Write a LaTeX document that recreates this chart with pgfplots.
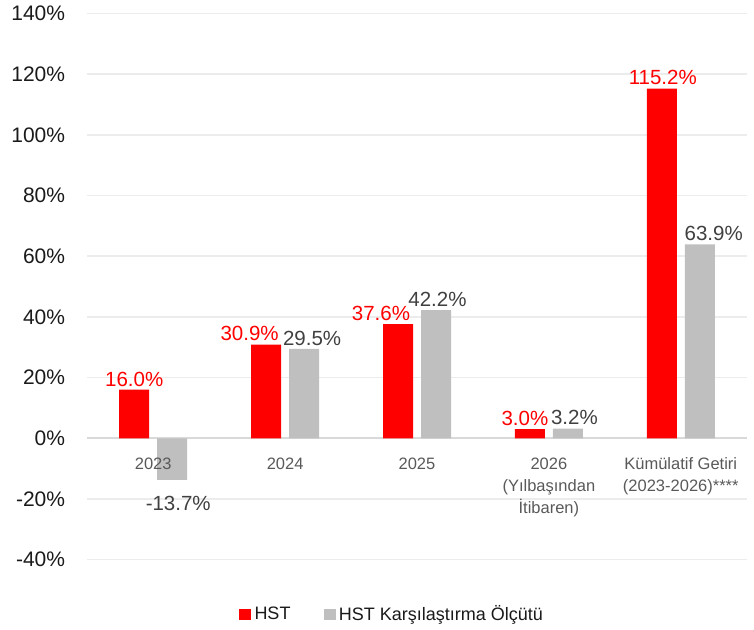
\documentclass[border=0pt]{standalone}
\usepackage{pgfplots}
\pgfplotsset{compat=1.18}
\usepackage{pgfplotstable}
\usepackage{fontspec}
\setmainfont{Liberation Sans}
\definecolor{hred}{HTML}{FF0000}
\definecolor{hgray}{HTML}{BFBFBF}
\definecolor{lblgray}{HTML}{404040}
\definecolor{catgray}{HTML}{595959}
\definecolor{gridc}{HTML}{ECECEC}
\definecolor{zeroc}{HTML}{D9D9D9}
\definecolor{tickc}{HTML}{1A1A1A}

\pgfplotsset{
  base/.style={
    at={(87.3pt,69.3pt)}, anchor=south west,
    scale only axis, width=659.4pt, height=546.3pt,
    xmin=-0.5, xmax=4.5, ymin=-40, ymax=140,
    axis line style={draw=none},
    major tick length=0pt,
    tick style={draw=none},
    clip=false,
  },
}

\pgfplotstableread{
x y dx dy
0 16.0 0 0
1 30.9 -16.5 0
2 37.6 -17 0
3 3.0 -5 0
4 115.2 1 0
}\hst
\pgfplotstableread{
x y dx dy
0 -13.7 6 -13
1 29.5 8 0
2 42.2 1.5 0
3 3.2 6.5 0
4 63.9 14 0
}\bench

\begin{document}
\begin{tikzpicture}[x=1pt,y=1pt]
\useasboundingbox (0,0) rectangle (754,629);
\begin{axis}[
  base,
  ybar=8pt, bar width=30pt,
  ytick={-40,-20,...,140},
  ymajorgrids,
  grid style={draw=gridc, line width=1.5pt},
  extra y ticks={0},
  extra y tick labels={},
  extra y tick style={grid style={draw=zeroc, line width=1.8pt}},
  /pgf/number format/assume math mode=true,
  yticklabel={\pgfmathprintnumber{\tick}\%},
  yticklabel style={anchor=east, inner sep=0pt, xshift=-22pt, text=tickc,
    font=\fontsize{21}{24}\selectfont},
  xtick={0,1,2,3,4},
  xticklabels={},
  nodes near coords={\pgfmathprintnumber[fixed,fixed zerofill,precision=1]{\pgfplotspointmeta}\%},
  visualization depends on={\thisrow{dx} \as \dx},
  visualization depends on={\thisrow{dy} \as \dy},
  every node near coord/.append style={font=\fontsize{20.5}{24}\selectfont, xshift=\dx pt, yshift=\dy pt},
  legend columns=2,
  legend style={at={(0.2299,-0.0995)}, anchor=west, draw=none, inner sep=0pt,
    font=\fontsize{18}{21}\selectfont, text=tickc,
    nodes={inner xsep=3.4pt, inner ysep=0pt},
    /tikz/every even column/.append style={column sep=29.6pt}},
  legend image code/.code={\path[fill=none, draw=none] (0pt,-10pt) rectangle (12pt,10pt);
    \fill[#1] (0pt,-6.4pt) rectangle (12pt,5.2pt);},
]
\addplot[fill=hred, draw=none, every node near coord/.append style={text=hred}]
  table[x=x, y=y, meta=y]{\hst};
\addplot[fill=hgray, draw=none, every node near coord/.append style={text=lblgray}]
  table[x=x, y=y, meta=y]{\bench};
\legend{HST, HST Karşılaştırma Ölçütü}
\end{axis}
\begin{axis}[
  base,
  ytick=\empty,
  xtick={0,1,2,3,4},
  xticklabels={2023,2024,2025,{2026\\(Yılbaşından\\İtibaren)},{Kümülatif Getiri\\(2023-2026)****}},
  xticklabel style={align=center, anchor=north, inner sep=0pt, yshift=102pt,
    text=catgray, font=\fontsize{16.5}{22}\selectfont},
]
\end{axis}
\end{tikzpicture}
\end{document}
